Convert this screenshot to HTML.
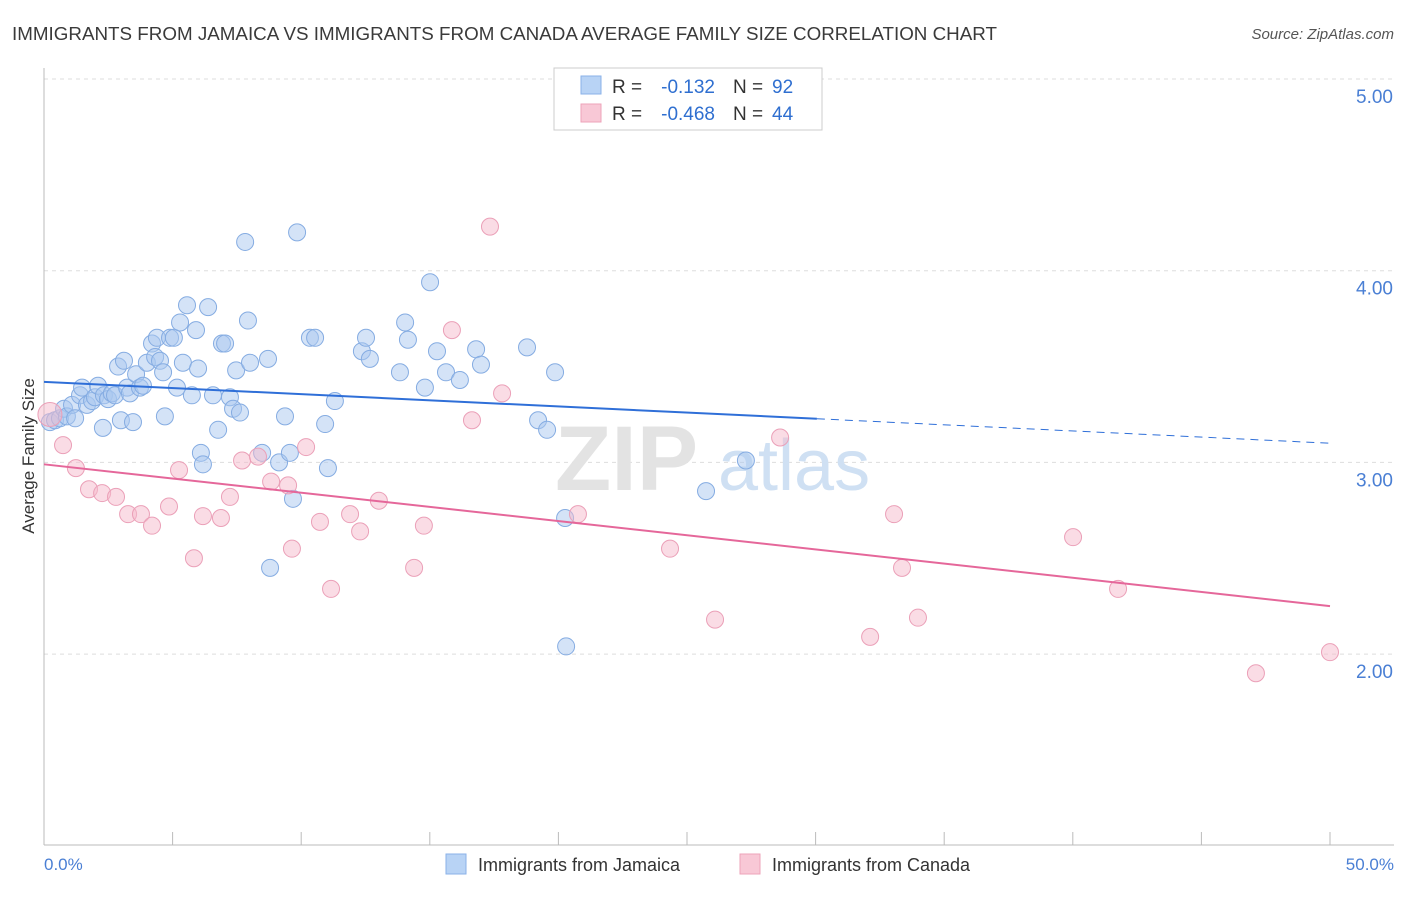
<!DOCTYPE html>
<html><head><meta charset="utf-8"><style>
body{margin:0;background:#fff;font-family:"Liberation Sans",sans-serif}
svg text{font-family:"Liberation Sans",sans-serif}
</style></head><body>
<svg id="chart" width="1406" height="892" xmlns="http://www.w3.org/2000/svg">
<text x="12" y="40" font-size="18.6" fill="#3a3a3a" textLength="985" lengthAdjust="spacingAndGlyphs">IMMIGRANTS FROM JAMAICA VS IMMIGRANTS FROM CANADA AVERAGE FAMILY SIZE CORRELATION CHART</text>
<text x="1394" y="39" font-size="15" fill="#555" text-anchor="end" font-style="italic">Source: ZipAtlas.com</text>
<g id="grid"></g>
<g><text x="555" y="490" font-size="92" fill="#e3e3e3" font-family="Liberation Serif" font-weight="bold">ZIP</text><text x="718" y="490" font-size="72" fill="#cfe0f3">atlas</text></g>
<line x1="44" y1="68" x2="44" y2="845" stroke="#bbb"/>
<line x1="44" y1="845" x2="1394" y2="845" stroke="#bbb"/>
<text transform="translate(34,456) rotate(-90)" font-size="17" fill="#333" text-anchor="middle">Average Family Size</text>
<text x="44" y="870" font-size="17" fill="#4a7fd4">0.0%</text>
<text x="1394" y="870" font-size="17" fill="#4a7fd4" text-anchor="end">50.0%</text>
<g id="marks"></g>
<g>
<rect x="554" y="68" width="268" height="62" fill="#fff" stroke="#ccc"/>
<rect x="581" y="76" width="20" height="18" fill="#b8d3f5" stroke="#8ab2e8"/>
<text x="612" y="93" font-size="19" fill="#333">R =</text>
<text x="715" y="93" font-size="19" fill="#2f6fd0" text-anchor="end">-0.132</text>
<text x="733" y="93" font-size="19" fill="#333">N =</text>
<text x="772" y="93" font-size="19" fill="#2f6fd0">92</text>
<rect x="581" y="104" width="20" height="18" fill="#f8c8d6" stroke="#eea3b9"/>
<text x="612" y="120" font-size="19" fill="#333">R =</text>
<text x="715" y="120" font-size="19" fill="#2f6fd0" text-anchor="end">-0.468</text>
<text x="733" y="120" font-size="19" fill="#333">N =</text>
<text x="772" y="120" font-size="19" fill="#2f6fd0">44</text>
</g>
<g>
<rect x="446" y="854" width="20" height="20" fill="#b8d3f5" stroke="#8ab2e8"/>
<text x="478" y="871" font-size="18" fill="#333">Immigrants from Jamaica</text>
<rect x="740" y="854" width="20" height="20" fill="#f8c8d6" stroke="#eea3b9"/>
<text x="772" y="871" font-size="18" fill="#333">Immigrants from Canada</text>
</g>
</svg>
<script>
const yTicks=[2,3,4,5];
const yTickLabels=["2.00","3.00","4.00","5.00"];
const xTicks=[0,5,10,15,20,25,30,35,40,45,50];
const jamX=[0.23,0.43,0.62,0.78,0.89,1.09,1.21,1.40,1.48,1.67,1.87,1.98,2.10,2.29,2.33,2.49,2.64,2.76,2.88,2.99,3.11,3.23,3.34,3.46,3.58,3.73,3.85,4.00,4.20,4.32,4.39,4.51,4.63,4.70,4.90,5.05,5.17,5.29,5.40,5.56,5.75,5.91,5.99,6.10,6.18,6.38,6.57,6.77,6.92,7.04,7.23,7.35,7.47,7.62,7.82,7.93,8.01,8.48,8.71,8.79,9.14,9.37,9.56,9.68,9.84,10.34,10.54,10.93,11.04,11.31,12.36,12.52,12.67,13.84,14.04,14.15,14.81,15.01,15.28,15.63,16.17,16.80,16.99,18.78,19.21,19.56,19.87,20.26,20.30,25.74,27.29];
const jamY=[3.21,3.22,3.23,3.28,3.24,3.30,3.23,3.35,3.39,3.30,3.32,3.34,3.40,3.18,3.35,3.33,3.36,3.35,3.50,3.22,3.53,3.39,3.36,3.21,3.46,3.39,3.40,3.52,3.62,3.55,3.65,3.53,3.47,3.24,3.65,3.65,3.39,3.73,3.52,3.82,3.35,3.69,3.49,3.05,2.99,3.81,3.35,3.17,3.62,3.62,3.34,3.28,3.48,3.26,4.15,3.74,3.52,3.05,3.54,2.45,3.00,3.24,3.05,2.81,4.20,3.65,3.65,3.20,2.97,3.32,3.58,3.65,3.54,3.47,3.73,3.64,3.39,3.94,3.58,3.47,3.43,3.59,3.51,3.60,3.22,3.17,3.47,2.71,2.04,2.85,3.01];
const canX=[0.23,0.74,1.24,1.75,2.26,2.80,3.27,3.77,4.20,4.86,5.25,5.83,6.18,6.88,7.23,7.70,8.32,8.83,9.49,9.64,10.19,10.73,11.16,11.90,12.29,13.02,14.39,14.77,15.86,16.64,17.34,17.81,20.76,24.34,26.09,28.62,32.12,33.05,33.36,33.98,40.01,41.76,47.12,50.00];
const canY=[3.25,3.09,2.97,2.86,2.84,2.82,2.73,2.73,2.67,2.77,2.96,2.50,2.72,2.71,2.82,3.01,3.03,2.90,2.88,2.55,3.08,2.69,2.34,2.73,2.64,2.80,2.45,2.67,3.69,3.22,4.23,3.36,2.73,2.55,2.18,3.13,2.09,2.73,2.45,2.19,2.61,2.34,1.90,2.01];
const jamTrend=[3.42,3.10];
const canTrend=[2.99,2.25];
const NS="http://www.w3.org/2000/svg";
const xs=v=>44+v*(1286/50);
const ys=v=>79+(5-v)*191.7;
const grid=document.getElementById('grid');
const marks=document.getElementById('marks');
function mk(tag,attrs,parent){const e=document.createElementNS(NS,tag);for(const k in attrs)e.setAttribute(k,attrs[k]);parent.appendChild(e);return e;}
yTicks.forEach((t,i)=>{
 const l=mk('line',{x1:44,x2:1394,y1:ys(t),y2:ys(t),stroke:'#ddd','stroke-dasharray':'4,4'},grid);
 
 
 const tx=mk('text',{x:1393,y:ys(t)+24,'font-size':19,fill:'#4a7fd4','text-anchor':'end'},grid);
 tx.textContent=yTickLabels[i];
 
 
});
xTicks.forEach(t=>{
 const l=mk('line',{x1:xs(t),x2:xs(t),y1:832,y2:845,stroke:'#bbb'},grid);
 
 
});
function dots(X,Y,fill,stroke,name){
 X.forEach((x,i)=>{
  const c=mk('circle',{cx:xs(x),cy:ys(Y[i]),r:(i===0&&name==='canada-point')?12:8.5,fill:fill,stroke:stroke,'stroke-width':1,'fill-opacity':0.5},marks);
  
  
 });
}
dots(jamX,jamY,'#a9c8f0','#85ace2','jamaica-point');
dots(canX,canY,'#f5b9cb','#eba0b8','canada-point');
const jx=30.05;
const jmid=jamTrend[0]+(jamTrend[1]-jamTrend[0])*jx/50;
const j1=mk('line',{x1:xs(0),y1:ys(jamTrend[0]),x2:xs(jx),y2:ys(jmid),stroke:'#2f6fd8','stroke-width':2},marks);


const j2=mk('line',{x1:xs(jx),y1:ys(jmid),x2:xs(50),y2:ys(jamTrend[1]),stroke:'#2f6fd8','stroke-width':1,'stroke-dasharray':'8,6'},marks);


const c1=mk('line',{x1:xs(0),y1:ys(canTrend[0]),x2:xs(50),y2:ys(canTrend[1]),stroke:'#e5679a','stroke-width':2},marks);


</script>
</body></html>
